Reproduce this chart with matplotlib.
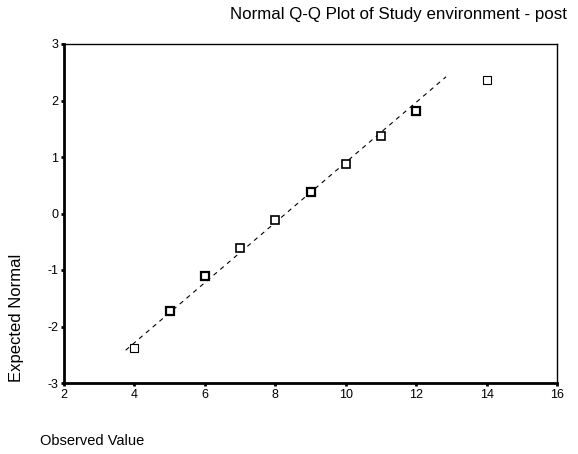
import numpy as np
import matplotlib
matplotlib.use("Agg")
import matplotlib.pyplot as plt

plt.rcParams['font.family'] = ['Liberation Sans', 'DejaVu Sans']
plt.rcParams['axes.unicode_minus'] = False

# Observed scores and their expected normal values
observed = [4, 5, 6, 7, 8, 9, 10, 11, 12, 14]
expected = [-2.38, -1.72, -1.11, -0.61, -0.11, 0.38, 0.88, 1.38, 1.81, 2.36]
# repeated cases draw the same square several times
repeats = [1, 3, 3, 2, 2, 3, 2, 2, 3, 1]

# reference line from the sample mean and sd
obs_mean = 8.3
obs_sd = 1.88
z_range = [-2.42, 2.42]

x_ticks = [2, 4, 6, 8, 10, 12, 14, 16]
y_ticks = [-3, -2, -1, 0, 1, 2, 3]

fig = plt.figure(figsize=(5.78, 4.54), dpi=100)
ax = fig.add_axes([64 / 578, 1 - 383 / 454, 493 / 578, 339 / 454])

line_x = [obs_mean + z * obs_sd for z in z_range]
ax.plot(line_x, z_range, color='black', lw=0.8, linestyle=(0, (4, 4)))

for x, y, n in zip(observed, expected, repeats):
    ax.plot([x], [y], marker='s', markersize=5.5, markerfacecolor='white',
            markeredgecolor='black', markeredgewidth=0.8 + 0.4 * (n - 1),
            linestyle='none')

ax.set_xlim(2, 16)
ax.set_ylim(-3, 3)
ax.set_xticks(x_ticks)
ax.set_yticks(y_ticks)
ax.tick_params(direction='out', length=2, width=2, labelsize=9, pad=2)

ax.spines['left'].set_linewidth(2)
ax.spines['bottom'].set_linewidth(2)
ax.spines['top'].set_linewidth(1)
ax.spines['right'].set_linewidth(1)

fig.text(398 / 578, 1 - 14 / 454, 'Normal Q-Q Plot of Study environment - post',
         ha='center', va='center', fontsize=12.2)
fig.text(40 / 578, 1 - 441 / 454, 'Observed Value', ha='left', va='center', fontsize=10.5)
fig.text(17 / 578, 1 - 318 / 454, 'Expected Normal', ha='center', va='center',
         rotation=90, fontsize=12)

fig.savefig('out.png', dpi=100)
